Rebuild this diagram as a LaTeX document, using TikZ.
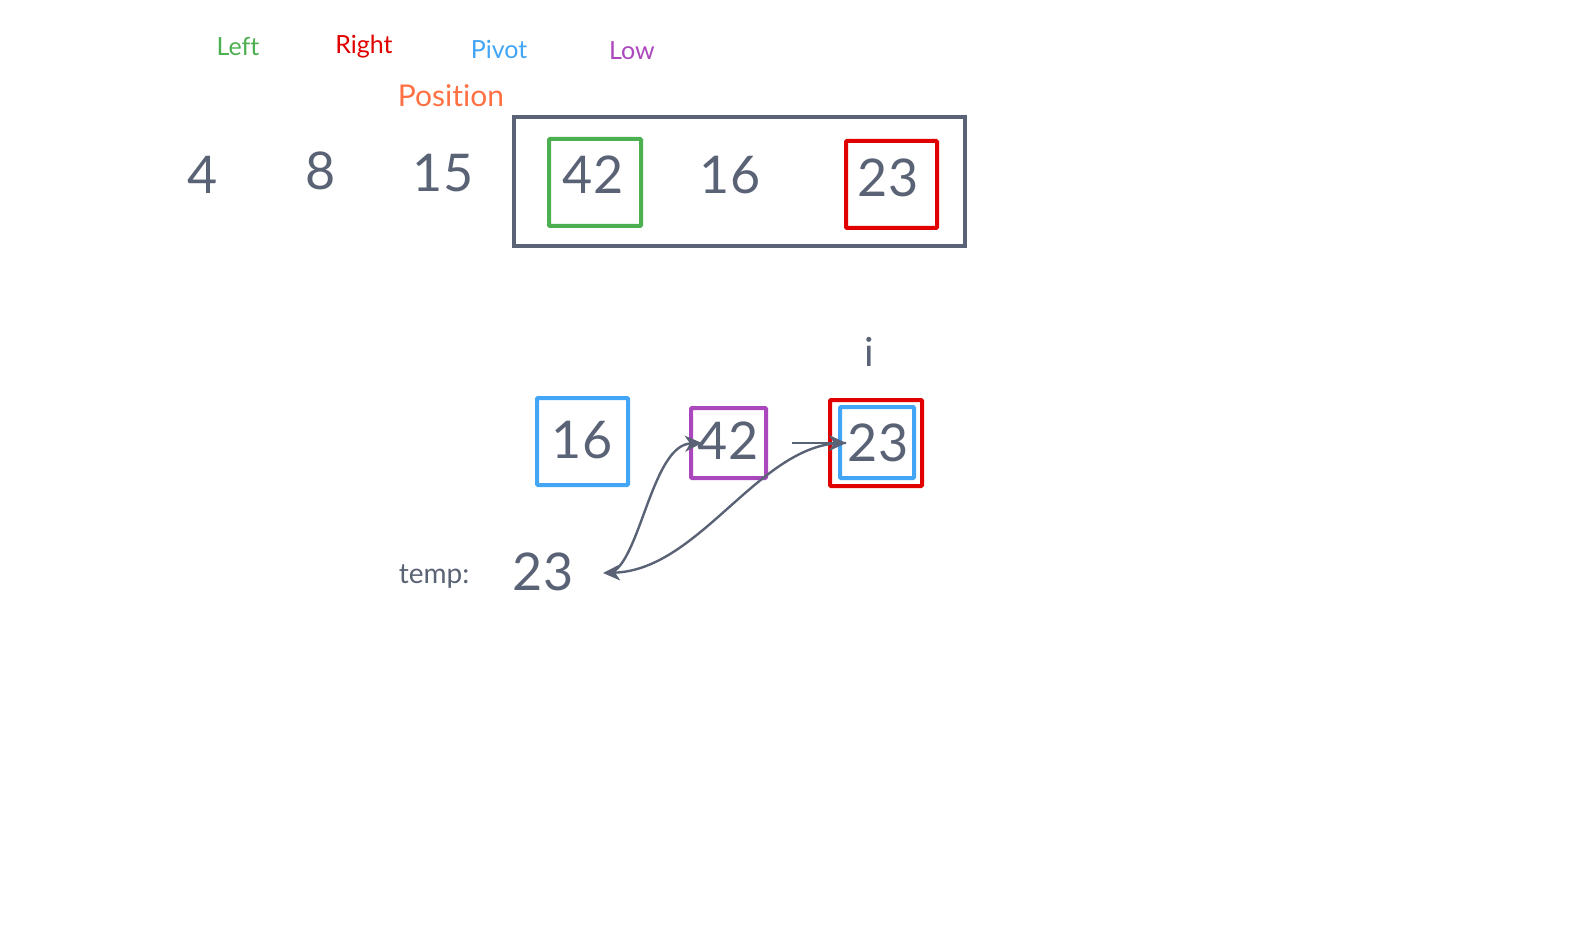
\documentclass[tikz,border=0pt]{standalone}
\usepackage{fontspec}
\setmainfont{Lato}[Ligatures={NoCommon}]
\usetikzlibrary{arrows.meta}
\definecolor{ink}{HTML}{5A6275}
\definecolor{cgreen}{HTML}{4CAF50}
\definecolor{cred}{HTML}{E00000}
\definecolor{cblue}{HTML}{42A5F5}
\definecolor{cpurple}{HTML}{AB47BC}
\definecolor{corange}{HTML}{FF7043}
\tikzset{
  num/.style={text=ink, font=\fontsize{26}{30}\selectfont, inner sep=0pt},
  lbl/.style={font=\fontsize{12.5}{15}\selectfont, inner sep=0pt},
  cellbox/.style={draw, line width=2pt, rounded corners=0.5pt, inner sep=0pt},
  arr/.style={draw=ink, line width=1.2pt, -{Stealth[length=8.5pt,width=8pt,inset=2.5pt]}}
}
\begin{document}
\begin{tikzpicture}[x=0.5pt,y=-0.5pt]
\useasboundingbox (0,0) rectangle (1572,946);
% labels
\node[lbl, text=cgreen] (lleft) at (238,47) {Left};
\node[lbl, text=cred] (lright) at (364,47) {Right};
\node[lbl, text=cblue] (lpivot) at (499,49) {Pivot};
\node[lbl, text=cpurple] (llow) at (632,51) {Low};
\node[lbl, text=corange, font=\fontsize{15}{18}\selectfont] (lpos) at (451,96) {Position};
% top row
\node[num] (n4) at (203,175) {4};
\node[num] (n8) at (321,171) {8};
\node[num] (n15) at (443,173) {15};
\node[draw=ink, line width=2pt, minimum width=225.5pt, minimum height=64.5pt, inner sep=0pt] (frame) at (739,181.5) {};
\node[cellbox, draw=cgreen, minimum width=46pt, minimum height=43.5pt] (g42) at (595,182.5) {};
\node[num] (t42) at (593,175) {42};
\node[num] (t16) at (730,175) {16};
\node[cellbox, draw=cred, minimum width=45.5pt, minimum height=43.5pt] (r23) at (891.5,184.5) {};
\node[num] (t23) at (888,178) {23};
% i
\node[num, font=\fontsize{20}{24}\selectfont] (ii) at (869,352) {i};
% bottom row
\node[cellbox, draw=cblue, minimum width=45.5pt, minimum height=43.5pt] (b16) at (582.5,441.5) {};
\node[num] (s16) at (582,440) {16};
\node[cellbox, draw=cpurple, minimum width=37.5pt, minimum height=35pt] (p42) at (728.5,443) {};
\node[num] (s42) at (728,441) {42};
\node[cellbox, draw=cred, minimum width=46pt, minimum height=43pt] (r2) at (876,443) {};
\node[cellbox, draw=cblue, minimum width=37pt, minimum height=35.5pt] (b2) at (877,442.5) {};
\node[num] (s23) at (878,443) {23};
% temp
\node[text=ink, font=\fontsize{14}{17}\selectfont, inner sep=0pt] (temp) at (434,577) {temp:};
\node[num] (tv) at (543,572) {23};
% connectors
\coordinate (aS) at (792,443);
\coordinate (aE) at (846,443);
\coordinate (tA) at (613,572);
\coordinate (tB) at (603,573);
\coordinate (lowIn) at (702,443);
\draw[arr] (aS) -- (aE);
\draw[arr] (tA) .. controls (641,555) and (653,445) .. (lowIn);
\draw[arr] (aE) .. controls (761,440) and (701,570) .. (tB);
\end{tikzpicture}
\end{document}
